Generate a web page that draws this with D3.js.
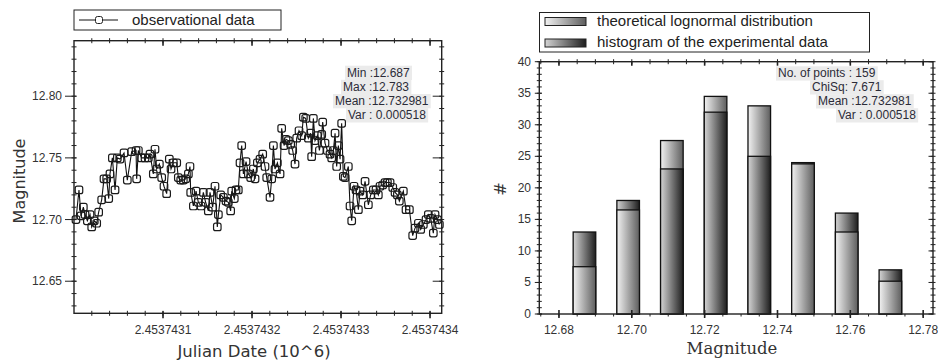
<!DOCTYPE html>
<html>
<head>
<meta charset="utf-8">
<script src="https://cdn.jsdelivr.net/npm/d3@7"></script>
<style>
  body { margin: 0; background: #fff; }
  svg text { font-family: "Liberation Sans", Arial, sans-serif; }
</style>
</head>
<body>
<svg id="chart" width="938" height="362"></svg>
<script>
// --- light curve (days after JD 2453743.0) ---
const jd0 = 2453743;
const jdOffset = [
  0.0022, 0.0056, 0.0079, 0.0105, 0.0124, 0.0150, 0.0180, 0.0199, 0.0228, 0.0255,
  0.0277, 0.0311, 0.0337, 0.0367, 0.0390, 0.0404, 0.0431, 0.0461, 0.0487, 0.0517,
  0.0562, 0.0599, 0.0648, 0.0697, 0.0704, 0.0723, 0.0760, 0.0798, 0.0835, 0.0854,
  0.0891, 0.0910, 0.0929, 0.0959, 0.0985, 0.1011, 0.1041, 0.1071, 0.1090, 0.1116,
  0.1154, 0.1172, 0.1199, 0.1228, 0.1255, 0.1285, 0.1303, 0.1311, 0.1341, 0.1371,
  0.1397, 0.1427, 0.1453, 0.1479, 0.1509, 0.1528, 0.1558, 0.1584, 0.1610, 0.1622,
  0.1648, 0.1678, 0.1708, 0.1734, 0.1760, 0.1772, 0.1801, 0.1820, 0.1846, 0.1865,
  0.1884, 0.1903, 0.1933, 0.1959, 0.1985, 0.2015, 0.2034, 0.2060, 0.2090, 0.2120,
  0.2146, 0.2165, 0.2202, 0.2221, 0.2240, 0.2258, 0.2285, 0.2315, 0.2333, 0.2360,
  0.2382, 0.2408, 0.2434, 0.2457, 0.2483, 0.2502, 0.2528, 0.2558, 0.2577, 0.2603,
  0.2633, 0.2659, 0.2670, 0.2689, 0.2708, 0.2734, 0.2757, 0.2783, 0.2794, 0.2820,
  0.2846, 0.2876, 0.2895, 0.2914, 0.2933, 0.2951, 0.2970, 0.2989, 0.3007, 0.3026,
  0.3045, 0.3082, 0.3101, 0.3120, 0.3146, 0.3169, 0.3195, 0.3213, 0.3243, 0.3270,
  0.3307, 0.3333, 0.3363, 0.3393, 0.3419, 0.3438, 0.3468, 0.3494, 0.3521, 0.3551,
  0.3581, 0.3607, 0.3633, 0.3655, 0.3700, 0.3730, 0.3768, 0.3805, 0.3831, 0.3869,
  0.3895, 0.3925, 0.3955, 0.3981, 0.4007, 0.4037, 0.4056, 0.4082, 0.4105
];
const magnitude = [
  12.700, 12.724, 12.703, 12.710, 12.704, 12.699, 12.704, 12.694, 12.699, 12.697,
  12.706, 12.716, 12.733, 12.733, 12.717, 12.737, 12.750, 12.724, 12.750, 12.749,
  12.754, 12.732, 12.755, 12.756, 12.733, 12.756, 12.750, 12.750, 12.750, 12.753,
  12.737, 12.757, 12.741, 12.745, 12.734, 12.727, 12.721, 12.749, 12.741, 12.746,
  12.746, 12.734, 12.732, 12.732, 12.733, 12.737, 12.743, 12.722, 12.711, 12.723,
  12.714, 12.711, 12.722, 12.714, 12.707, 12.722, 12.710, 12.727, 12.694, 12.704,
  12.720, 12.718, 12.715, 12.714, 12.707, 12.723, 12.717, 12.724, 12.724, 12.746,
  12.760, 12.737, 12.747, 12.737, 12.734, 12.741, 12.733, 12.746, 12.749, 12.753,
  12.743, 12.734, 12.718, 12.733, 12.760, 12.741, 12.746, 12.737, 12.774, 12.760,
  12.765, 12.764, 12.761, 12.756, 12.745, 12.766, 12.772, 12.768, 12.783, 12.782,
  12.766, 12.770, 12.751, 12.782, 12.764, 12.768, 12.756, 12.769, 12.779, 12.762,
  12.756, 12.753, 12.750, 12.756, 12.770, 12.743, 12.760, 12.749, 12.778, 12.735,
  12.734, 12.743, 12.711, 12.699, 12.727, 12.724, 12.708, 12.723, 12.720, 12.731,
  12.712, 12.720, 12.724, 12.724, 12.720, 12.727, 12.728, 12.730, 12.730, 12.730,
  12.726, 12.722, 12.720, 12.715, 12.723, 12.708, 12.708, 12.687, 12.693, 12.697,
  12.692, 12.696, 12.700, 12.704, 12.701, 12.689, 12.704, 12.700, 12.696
];
const curveStats = ["Min :12.687", "Max :12.783", "Mean :12.732981", "Var : 0.000518"];
const curveYTicks = [12.65, 12.70, 12.75, 12.80];
const curveXTicks = [0.1, 0.2, 0.3, 0.4];

// --- histogram ---
const binCenters = [12.687, 12.699, 12.711, 12.723, 12.735, 12.747, 12.759, 12.771];
const histCounts = [13, 18, 23, 32, 25, 24, 16, 7];
const theoCounts = [7.5, 16.5, 27.5, 34.5, 33, 23.8, 13, 5.2];
const histStats = ["No. of points : 159", "ChiSq: 7.671", "Mean :12.732981", "Var : 0.000518"];
const histXTicks = [12.68, 12.70, 12.72, 12.74, 12.76, 12.78];
const histYTicks = [0, 5, 10, 15, 20, 25, 30, 35, 40];

const svg = d3.select("#chart");
const ink = "#222";

const defs = svg.append("defs");
function addGradient(id, from, to) {
  const gr = defs.append("linearGradient").attr("id", id)
    .attr("x1", "0%").attr("x2", "100%").attr("y1", "0%").attr("y2", "0%");
  gr.append("stop").attr("offset", "0%").attr("stop-color", from);
  gr.append("stop").attr("offset", "100%").attr("stop-color", to);
}
addGradient("gTheo", "#f2f2f2", "#5e5e5e");
addGradient("gHist", "#d4d4d4", "#1e1e1e");

// frame with ticks on all four sides, the way the original plot control draws them
function frame(x, y, xMajor, xMinor, yMajor, yMinor, t) {
  const [x0, x1] = x.range(), [y1, y0] = y.range();
  const g = svg.append("g");
  g.append("rect").attr("x", x0).attr("y", y0).attr("width", x1 - x0).attr("height", y1 - y0)
    .attr("fill", "none").attr("stroke", ink).attr("stroke-width", 1.4);
  const tk = g.append("g").attr("stroke", ink).attr("stroke-width", 1);
  yMinor.forEach(v => {
    const p = y(v);
    tk.append("line").attr("x1", x0 - 2.5).attr("x2", x0 + 2.5).attr("y1", p).attr("y2", p);
    tk.append("line").attr("x1", x1 - 2.5).attr("x2", x1 + 2.5).attr("y1", p).attr("y2", p);
  });
  yMajor.forEach(v => {
    const p = y(v);
    tk.append("line").attr("x1", x0 - t.yOut).attr("x2", x0 + 2.5).attr("y1", p).attr("y2", p);
    tk.append("line").attr("x1", x1 - t.yOut).attr("x2", x1).attr("y1", p).attr("y2", p);
  });
  xMinor.forEach(v => {
    const p = x(v);
    tk.append("line").attr("x1", p).attr("x2", p).attr("y1", y1 - t.xMinUp).attr("y2", y1 + 2.5);
    tk.append("line").attr("x1", p).attr("x2", p).attr("y1", y0 - 2.5).attr("y2", y0 + 2.5);
  });
  xMajor.forEach(v => {
    const p = x(v);
    tk.append("line").attr("x1", p).attr("x2", p).attr("y1", y1 - t.xUp).attr("y2", y1 + t.xOut)
      .attr("stroke-width", 1.6);
    tk.append("line").attr("x1", p).attr("x2", p).attr("y1", y0).attr("y2", y0 + t.xOut)
      .attr("stroke-width", 1.6);
  });
  return g;
}

function statsBox(lines, xs, baselines) {
  const g = svg.append("g");
  lines.forEach((s, i) => {
    const row = g.append("g");
    const bg = row.append("rect").attr("fill", "#ebebeb");
    const tx = row.append("text").attr("x", xs[i]).attr("y", baselines[i])
      .attr("font-size", 12).attr("fill", "#2b2b38").text(s);
    const b = tx.node().getBBox();
    bg.attr("x", b.x - 2).attr("y", baselines[i] - 11).attr("width", b.width + 4).attr("height", 14.3);
  });
}

// ================= left: light curve =================
const xL = d3.scaleLinear().domain([0, 0.4131]).range([74, 441.7]);
const yL = d3.scaleLinear().domain([12.624, 12.845]).range([313.3, 40.7]);

frame(xL, yL, curveXTicks, d3.range(0.02, 0.413, 0.02), curveYTicks,
  d3.range(12.63, 12.845, 0.01), { yOut: 9, xUp: 2, xOut: 5, xMinUp: 2.5 });

svg.append("g").selectAll("text").data(curveYTicks).join("text")
  .attr("x", 62).attr("y", d => yL(d) + 4).attr("text-anchor", "end")
  .attr("font-size", 12).attr("fill", "#333").text(d3.format(".2f"));
svg.append("g").selectAll("text").data(curveXTicks).join("text")
  .attr("x", d => xL(d)).attr("y", 334).attr("text-anchor", "middle")
  .attr("font-size", 12).attr("fill", "#333")
  .text(d => ((jd0 + d) / 1e6).toFixed(7));

const pts = jdOffset.map((t, i) => [t, magnitude[i]]);
svg.append("path").datum(pts)
  .attr("d", d3.line().x(d => xL(d[0])).y(d => yL(d[1])))
  .attr("fill", "none").attr("stroke", "#111").attr("stroke-width", 1.1);
svg.append("g").selectAll("rect").data(pts).join("rect")
  .attr("x", d => xL(d[0]) - 3.75).attr("y", d => yL(d[1]) - 3.75)
  .attr("width", 7.5).attr("height", 7.5).attr("rx", 2)
  .attr("fill", "none").attr("stroke", "#1a1a1a").attr("stroke-width", 1.2);

statsBox(curveStats, [347, 343, 335, 348], [76.7, 90.8, 105, 119.2]);

svg.append("text").attr("transform", "translate(25,181) rotate(-90)")
  .attr("text-anchor", "middle").attr("font-size", 16).attr("fill", "#333")
  .style("font-family", "'DejaVu Sans', sans-serif").text("Magnitude");
svg.append("text").attr("x", 254).attr("y", 357).attr("text-anchor", "middle")
  .attr("font-size", 16.5).attr("fill", "#333")
  .style("font-family", "'DejaVu Sans', sans-serif").text("Julian Date (10^6)");

// legend
const legL = svg.append("g");
legL.append("rect").attr("x", 74).attr("y", 10).attr("width", 207).attr("height", 20)
  .attr("fill", "#fff").attr("stroke", ink).attr("stroke-width", 1);
legL.append("line").attr("x1", 79).attr("x2", 118).attr("y1", 20).attr("y2", 20)
  .attr("stroke", "#111");
legL.append("rect").attr("x", 95.5).attr("y", 16.5).attr("width", 7).attr("height", 7)
  .attr("rx", 2).attr("fill", "#fff").attr("stroke", "#222");
legL.append("text").attr("x", 132).attr("y", 24.5).attr("font-size", 15).attr("fill", "#222")
  .text("observational data");

// ================= right: histogram =================
const xR = d3.scaleLinear().domain([12.6746, 12.7827]).range([539.3, 933]);
const yR = d3.scaleLinear().domain([0, 40]).range([314, 61.7]);
const halfBin = 0.0031;

// taller of the two bars goes behind so both tops stay visible
const bars = [];
binCenters.forEach((c, i) => {
  const pair = [{ c, v: theoCounts[i], fill: "url(#gTheo)" }, { c, v: histCounts[i], fill: "url(#gHist)" }];
  pair.sort((a, b) => b.v - a.v);
  bars.push(...pair);
});
svg.append("g").selectAll("rect").data(bars).join("rect")
  .attr("x", d => xR(d.c - halfBin)).attr("width", d => xR(d.c + halfBin) - xR(d.c - halfBin))
  .attr("y", d => yR(d.v)).attr("height", d => yR(0) - yR(d.v))
  .attr("fill", d => d.fill).attr("stroke", "#111").attr("stroke-width", 1.3);

frame(xR, yR, histXTicks, d3.range(12.675, 12.7826, 0.005), histYTicks,
  d3.range(0, 40.1, 1), { yOut: 4.5, xUp: 4, xOut: 4, xMinUp: 0 });

svg.append("g").selectAll("text").data(histYTicks).join("text")
  .attr("x", 531).attr("y", d => yR(d) + 4).attr("text-anchor", "end")
  .attr("font-size", 12).attr("fill", "#333").text(d => d);
svg.append("g").selectAll("text").data(histXTicks).join("text")
  .attr("x", d => xR(d)).attr("y", 334).attr("text-anchor", "middle")
  .attr("font-size", 12).attr("fill", "#333").text(d3.format(".2f"));

statsBox(histStats, [778, 812, 818, 838], [77.3, 91.2, 105.2, 119.2]);

svg.append("text").attr("transform", "translate(506,189) rotate(-90)")
  .attr("text-anchor", "middle").attr("font-size", 16).attr("fill", "#333")
  .style("font-family", "'DejaVu Sans', sans-serif").text("#");
svg.append("text").attr("x", 732).attr("y", 354).attr("text-anchor", "middle")
  .attr("font-size", 16.5).attr("fill", "#333")
  .style("font-family", "'DejaVu Serif', serif").text("Magnitude");

const legR = svg.append("g");
legR.append("rect").attr("x", 539.5).attr("y", 12.5).attr("width", 330).attr("height", 39.5)
  .attr("fill", "#fff").attr("stroke", ink).attr("stroke-width", 1);
[["url(#gTheo)", "theoretical lognormal distribution", 17.5, 26],
 ["url(#gHist)", "histogram of the experimental data", 39, 47]].forEach(([f, s, sy, by]) => {
  legR.append("rect").attr("x", 545).attr("y", sy).attr("width", 41).attr("height", 8)
    .attr("fill", f).attr("stroke", "#222").attr("stroke-width", 1);
  legR.append("text").attr("x", 597).attr("y", by).attr("font-size", 15).attr("fill", "#222").text(s);
});
</script>
</body>
</html>
